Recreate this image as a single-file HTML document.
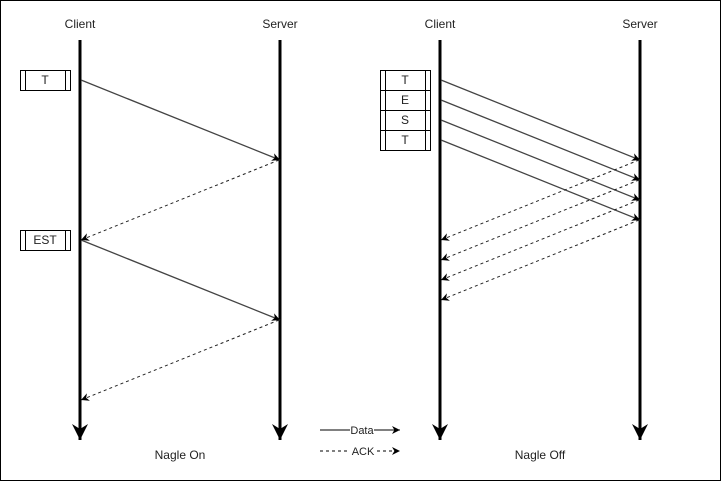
<!DOCTYPE html>
<html><head><meta charset="utf-8"><style>
html,body{margin:0;padding:0;background:#fff}
svg{display:block}
text{font-family:"Liberation Sans",Arial,sans-serif;font-size:12px;fill:#222}
</style></head><body>
<svg width="721" height="481" viewBox="0 0 721 481" xmlns="http://www.w3.org/2000/svg">
<defs>
<marker id="a" viewBox="0 0 10 10" refX="10" refY="5" markerWidth="8" markerHeight="8" markerUnits="userSpaceOnUse" orient="auto">
<path d="M0,0 L10,5 L0,10 L3,5 Z" fill="#000"/></marker>
<marker id="big" viewBox="0 0 16 16" refX="16" refY="8" markerWidth="16" markerHeight="16" markerUnits="userSpaceOnUse" orient="auto">
<path d="M0,0 L16,8 L0,16 L5,8 Z" fill="#000"/></marker>
</defs>
<rect x="0.5" y="0.5" width="720" height="480" fill="#fff" stroke="#000" stroke-width="1"/>
<g text-anchor="middle">
<text x="80" y="28">Client</text><text x="280" y="28">Server</text>
<text x="440" y="28">Client</text><text x="640" y="28">Server</text>
<text x="180" y="459">Nagle On</text><text x="540" y="459">Nagle Off</text>
</g>
<g stroke="#000" stroke-width="3">
<line x1="80" y1="40" x2="80" y2="440" marker-end="url(#big)"/>
<line x1="280" y1="40" x2="280" y2="440" marker-end="url(#big)"/>
<line x1="440" y1="40" x2="440" y2="440" marker-end="url(#big)"/>
<line x1="640" y1="40" x2="640" y2="440" marker-end="url(#big)"/>
</g>
<g fill="#fff" stroke="#000" stroke-width="1">
<rect x="20.5" y="70.5" width="50" height="20"/><line x1="25.5" y1="70.5" x2="25.5" y2="90.5"/><line x1="65.5" y1="70.5" x2="65.5" y2="90.5"/>
<rect x="20.5" y="230.5" width="50" height="20"/><line x1="25.5" y1="230.5" x2="25.5" y2="250.5"/><line x1="65.5" y1="230.5" x2="65.5" y2="250.5"/>
<rect x="380.5" y="70.5" width="50" height="80"/>
<line x1="385.5" y1="70.5" x2="385.5" y2="150.5"/><line x1="425.5" y1="70.5" x2="425.5" y2="150.5"/>
<line x1="380.5" y1="90.5" x2="430.5" y2="90.5"/><line x1="380.5" y1="110.5" x2="430.5" y2="110.5"/><line x1="380.5" y1="130.5" x2="430.5" y2="130.5"/>
</g>
<g text-anchor="middle">
<text x="45" y="84">T</text><text x="45" y="244">EST</text>
<text x="405" y="84">T</text><text x="405" y="104">E</text><text x="405" y="124">S</text><text x="405" y="144">T</text>
</g>
<g stroke="#444" stroke-width="1.3" fill="none">
<line x1="81" y1="80" x2="280" y2="160" marker-end="url(#a)"/>
<line x1="81" y1="240" x2="280" y2="320" marker-end="url(#a)"/>
<line x1="441" y1="80" x2="640" y2="160" marker-end="url(#a)"/>
<line x1="441" y1="100" x2="640" y2="180" marker-end="url(#a)"/>
<line x1="441" y1="120" x2="640" y2="200" marker-end="url(#a)"/>
<line x1="441" y1="140" x2="640" y2="220" marker-end="url(#a)"/>
</g>
<g stroke="#222" stroke-width="1" stroke-dasharray="3,3" fill="none">
<line x1="279" y1="160" x2="81" y2="240" marker-end="url(#a)"/>
<line x1="279" y1="320" x2="81" y2="400" marker-end="url(#a)"/>
<line x1="639" y1="160" x2="441" y2="240" marker-end="url(#a)"/>
<line x1="639" y1="180" x2="441" y2="260" marker-end="url(#a)"/>
<line x1="639" y1="200" x2="441" y2="280" marker-end="url(#a)"/>
<line x1="639" y1="220" x2="441" y2="300" marker-end="url(#a)"/>
</g>
<line x1="320" y1="430" x2="350" y2="430" stroke="#000"/>
<line x1="374" y1="430" x2="400" y2="430" stroke="#000" marker-end="url(#a)"/>
<text x="362" y="434" text-anchor="middle" style="font-size:11px">Data</text>
<line x1="320" y1="451" x2="349" y2="451" stroke="#000" stroke-dasharray="3,3"/>
<line x1="377" y1="451" x2="400" y2="451" stroke="#000" stroke-dasharray="3,3" marker-end="url(#a)"/>
<text x="363" y="455" text-anchor="middle" style="font-size:11px">ACK</text>
</svg>
</body></html>
